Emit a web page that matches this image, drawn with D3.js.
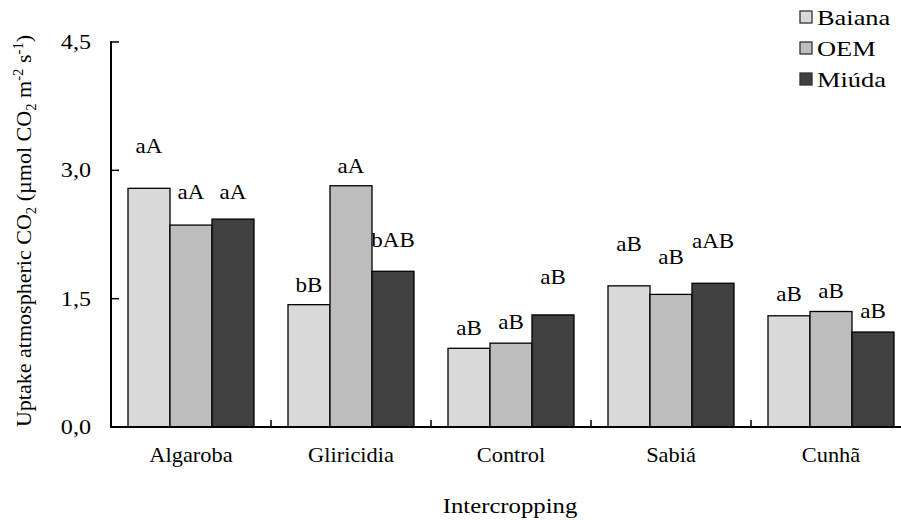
<!DOCTYPE html>
<html>
  <head>
    <meta charset="utf-8" />
    <title>Uptake atmospheric CO2</title>
    <style type="text/css">
      html, body { margin: 0; padding: 0; background: #fff; }
    </style>
  </head>
  <body>
    <svg id="chart" width="901" height="520" font-family="Liberation Serif, Times New Roman, serif"></svg>

    <script type="text/javascript" src="https://cdn.jsdelivr.net/npm/d3@7/dist/d3.min.js"></script>
    <script type="text/javascript">

    var categories = ['Algaroba', 'Gliricidia', 'Control', 'Sabiá', 'Cunhã'];
    var series = ['Baiana', 'OEM', 'Miúda'];
    var colors = ['#d9d9d9', '#bdbdbd', '#404040'];
    var yTicks = [0, 1.5, 3, 4.5];

    // one row per series, one value per category
    var baiana = [2.79, 1.43, 0.92, 1.65, 1.30];
    var oem    = [2.36, 2.82, 0.98, 1.55, 1.35];
    var miuda  = [2.43, 1.82, 1.31, 1.68, 1.11];

    // letters of the mean test and the height (in y units) of their baseline
    var baianaLetters = ['aA', 'bB', 'aB', 'aB', 'aB'];
    var oemLetters    = ['aA', 'aA', 'aB', 'aB', 'aB'];
    var miudaLetters  = ['aA', 'bAB', 'aB', 'aAB', 'aB'];
    var baianaLetterY = [3.20, 1.58, 1.07, 2.06, 1.47];
    var oemLetterY    = [2.66, 2.97, 1.14, 1.91, 1.51];
    var miudaLetterY  = [2.66, 2.10, 1.67, 2.09, 1.27];

    var values = [baiana, oem, miuda],
        letters = [baianaLetters, oemLetters, miudaLetters],
        letterY = [baianaLetterY, oemLetterY, miudaLetterY];

    var FONT = 'Liberation Serif, Times New Roman, serif';
    var svg = d3.select('#chart');

    var x0 = d3.scaleBand().domain(categories).range([111, 911]);
    var x1 = d3.scaleBand().domain(series).range([17, x0.bandwidth() - 17]);
    var y = d3.scaleLinear().domain([0, 4.5]).range([427, 42]);

    // the source text is a bit wider than plain Times, hence the x stretch
    function label(tx, ty, anchor, size, sx) {
      return svg.append('text')
        .attr('transform', 'translate(' + tx + ',' + ty + ') scale(' + (sx || 1.15) + ',1)')
        .attr('text-anchor', anchor)
        .attr('font-family', FONT)
        .attr('font-size', size)
        .attr('fill', '#000');
    }

    // bars
    var bars = [];
    categories.forEach(function(c, ci) {
      series.forEach(function(s, si) {
        bars.push({ cat: c, ser: s, si: si, v: values[si][ci], t: letters[si][ci], ty: letterY[si][ci] });
      });
    });

    svg.selectAll('rect.bar')
      .data(bars)
      .enter()
      .append('rect')
        .attr('class', 'bar')
        .attr('x', function(d) { return x0(d.cat) + x1(d.ser); })
        .attr('y', function(d) { return y(d.v); })
        .attr('width', x1.bandwidth())
        .attr('height', function(d) { return y(0) - y(d.v); })
        .attr('fill', function(d) { return colors[d.si]; })
        .attr('stroke', '#000')
        .attr('stroke-width', 1.3);

    bars.forEach(function(d) {
      label(x0(d.cat) + x1(d.ser) + x1.bandwidth() / 2, y(d.ty), 'middle', 20).text(d.t);
    });

    // y axis, ticks pointing inward
    svg.append('line')
      .attr('x1', 111).attr('x2', 111)
      .attr('y1', y(4.5) - 1).attr('y2', y(0) + 1)
      .attr('stroke', '#000').attr('stroke-width', 2);
    yTicks.forEach(function(t) {
      svg.append('line')
        .attr('x1', 111).attr('x2', 119)
        .attr('y1', y(t)).attr('y2', y(t))
        .attr('stroke', '#000').attr('stroke-width', 1.5);
      label(91, y(t) + 7, 'end', 21).text(d3.format('.1f')(t).replace('.', ','));
    });

    // x axis, ticks between groups pointing up
    svg.append('line')
      .attr('x1', 110).attr('x2', 911)
      .attr('y1', y(0)).attr('y2', y(0))
      .attr('stroke', '#000').attr('stroke-width', 2);
    categories.slice(1).forEach(function(c) {
      svg.append('line')
        .attr('x1', x0(c)).attr('x2', x0(c))
        .attr('y1', y(0)).attr('y2', y(0) - 7)
        .attr('stroke', '#000').attr('stroke-width', 1.5);
    });
    categories.forEach(function(c) {
      label(x0(c) + x0.bandwidth() / 2, 462, 'middle', 20, 1.12).text(c);
    });

    label(510, 513, 'middle', 21.5, 1.15).text('Intercropping');

    // y title with subscripts and superscripts
    var yt = svg.append('text')
      .attr('transform', 'translate(31,231) rotate(-90) scale(1.05,1)')
      .attr('text-anchor', 'middle')
      .attr('font-family', FONT)
      .attr('font-size', 21);
    var parts = [
      ['Uptake atmospheric CO', 0], ['2', 1], [' (µmol CO', 0], ['2', 1],
      [' m', 0], ['-2', -1], [' s', 0], ['-1', -1], [')', 0]
    ];
    var shift = 0;
    parts.forEach(function(p) {
      var dy = p[1] === 1 ? 5 : p[1] === -1 ? -8 : 0;
      yt.append('tspan')
        .attr('dy', dy - shift)
        .attr('font-size', p[1] ? 14 : 21)
        .text(p[0]);
      shift = dy;
    });

    // legend
    series.forEach(function(s, i) {
      var ly = 11 + i * 31;
      svg.append('rect')
        .attr('x', 800).attr('y', ly)
        .attr('width', 12).attr('height', 12)
        .attr('fill', colors[i])
        .attr('stroke', '#333').attr('stroke-width', 1.3);
      label(817, ly + 14, 'start', 22, 1.2).text(s);
    });

    </script>
  </body>
</html>
